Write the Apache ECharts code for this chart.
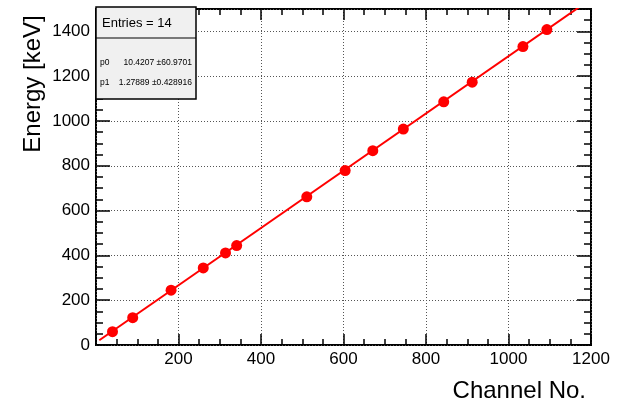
<!DOCTYPE html>
<html>
<head>
<meta charset="utf-8">
<script src="https://cdn.jsdelivr.net/npm/echarts@6/dist/echarts.min.js"></script>
<style>
  html, body { margin: 0; padding: 0; background: #fff; }
  #chart { width: 623px; height: 402px; }
</style>
</head>
<body>
<div id="chart"></div>
<script>
// calibration points: channel vs. gamma energy
const channels = [40, 89, 182, 260, 314, 341, 511, 604, 671, 745, 843, 912, 1035, 1093];
const energies = [59.5, 122, 244.7, 344.3, 411, 444, 661.7, 778.9, 867.4, 964, 1085.8, 1173.2, 1332.5, 1408];

// fit line end points (pol1 fit), clipped by the frame
const fitX = [8, 1200];
const fitY = [21, 1545];

const statsTitle = 'Entries = 14';
const statsNames = ['p0', 'p1'];
const statsValues = ['10.4207 \u00b160.9701', '1.27889 \u00b10.428916'];

const font = 'Liberation Sans, Arial, Helvetica, sans-serif';
const red = '#ff0000';

const chart = echarts.init(document.getElementById('chart'));

const dotted = { show: true, lineStyle: { color: '#555', type: [1, 2], width: 1 } };

// onZero off, otherwise the top/right axes get pulled onto the zero line
function xAx(pos, labels) {
  return {
    type: 'value', position: pos, min: 0, max: 1200, interval: 200,
    axisLine: { show: false, onZero: false },
    axisTick: { show: true, inside: true, length: 11, lineStyle: { color: '#000', width: 1.5 } },
    minorTick: { show: true, splitNumber: 4, length: 6, lineStyle: { color: '#000', width: 1.5 } },
    axisLabel: labels ? {
      show: true, color: '#000', fontFamily: font, fontSize: 17, margin: 6,
      formatter: v => (v === 0 ? '' : String(v))
    } : { show: false },
    splitLine: labels ? dotted : { show: false }
  };
}

function yAx(pos, step, len, labels) {
  return {
    type: 'value', position: pos, min: 0, max: 1500, interval: step,
    axisLine: { show: false, onZero: false },
    axisTick: { show: true, inside: true, length: len, lineStyle: { color: '#000', width: 1.5 } },
    axisLabel: labels ? {
      show: true, color: '#000', fontFamily: font, fontSize: 17, margin: 6,
      formatter: v => (v === 1500 ? '' : String(v))
    } : { show: false },
    splitLine: labels ? dotted : { show: false }
  };
}

chart.setOption({
  animation: false,
  backgroundColor: '#fff',
  grid: {
    left: 96, right: 32, top: 9, bottom: 57,
    show: true, borderColor: '#000', borderWidth: 2, backgroundColor: 'transparent'
  },
  xAxis: [xAx('bottom', true), xAx('top', false)],
  yAxis: [
    yAx('left', 200, 14, true),
    yAx('right', 200, 14, false),
    yAx('left', 50, 7, false),
    yAx('right', 50, 7, false)
  ],
  series: [
    {
      type: 'line',
      data: fitX.map((x, i) => [x, fitY[i]]),
      showSymbol: false,
      lineStyle: { color: red, width: 2 },
      clip: true,
      z: 3
    },
    {
      type: 'scatter',
      data: channels.map((c, i) => [c, energies[i]]),
      symbol: 'circle',
      symbolSize: 11,
      itemStyle: { color: red, opacity: 1 },
      z: 4
    }
  ],
  graphic: [
    {
      type: 'text', x: 33, y: 84, rotation: Math.PI / 2,
      style: { text: 'Energy [keV]', font: '24px ' + font, fill: '#000', align: 'center', verticalAlign: 'middle' }
    },
    {
      type: 'text', x: 586, y: 391,
      style: { text: 'Channel No.', font: '24px ' + font, fill: '#000', align: 'right', verticalAlign: 'middle' }
    },
    {
      type: 'rect', shape: { x: 96, y: 7, width: 100, height: 92 }, z: 10,
      style: { fill: '#f0f0f0', stroke: '#000', lineWidth: 1.5 }
    },
    {
      type: 'line', shape: { x1: 96, y1: 38, x2: 196, y2: 38 }, z: 11,
      style: { stroke: '#000', lineWidth: 1 }
    },
    {
      type: 'text', x: 102, y: 23, z: 11,
      style: { text: statsTitle, font: '13px ' + font, fill: '#000', verticalAlign: 'middle' }
    },
    ...statsNames.map((n, i) => ({
      type: 'text', x: 100, y: 63 + i * 20, z: 11,
      style: { text: n, font: '8.5px ' + font, fill: '#000', verticalAlign: 'middle' }
    })),
    ...statsValues.map((v, i) => ({
      type: 'text', x: 192, y: 63 + i * 20, z: 11,
      style: { text: v, font: '8.5px ' + font, fill: '#000', align: 'right', verticalAlign: 'middle' }
    }))
  ]
});
</script>
</body>
</html>
